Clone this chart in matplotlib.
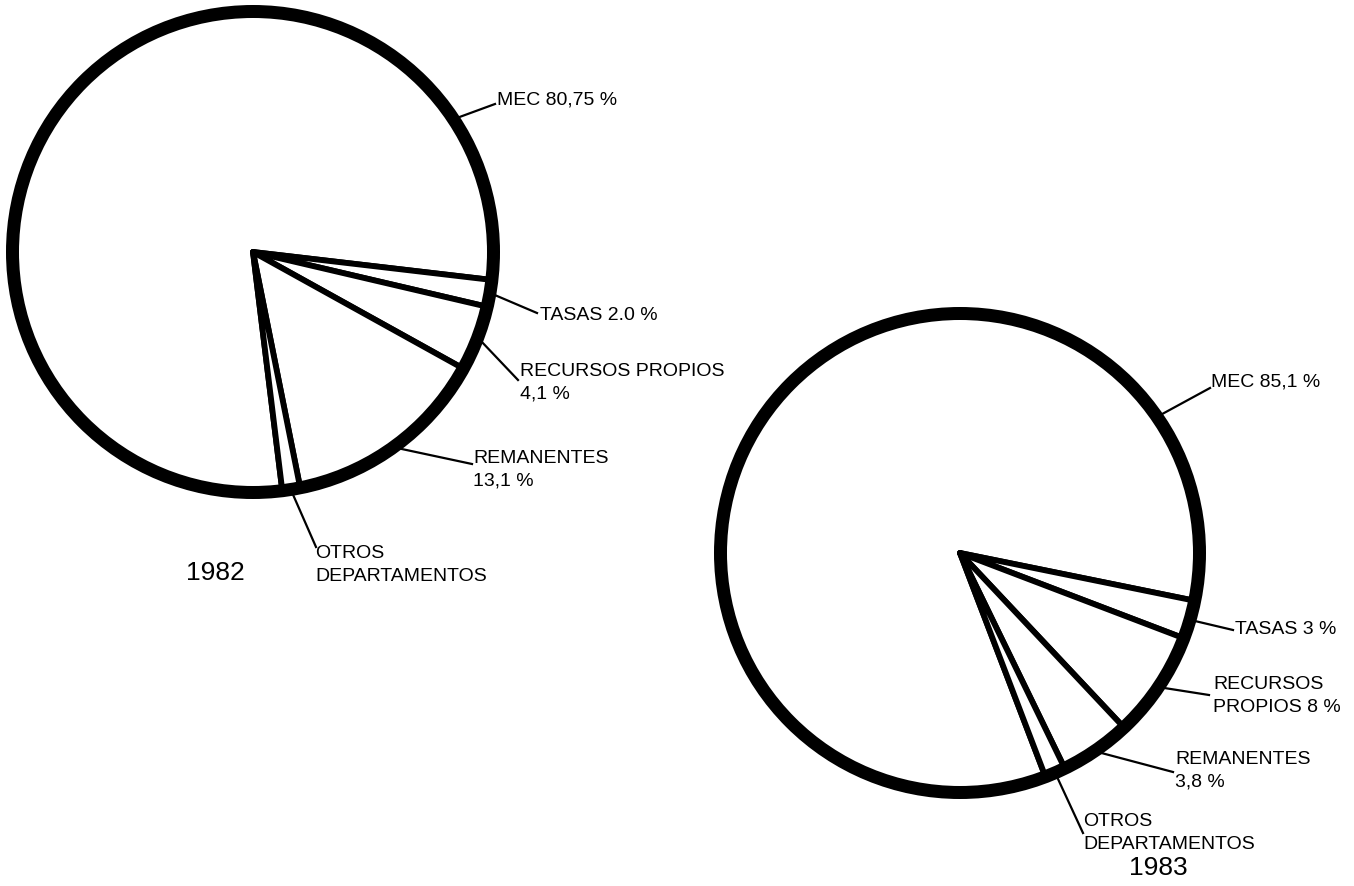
import numpy as np
import matplotlib.pyplot as plt

plt.rcParams['font.family'] = ['Liberation Sans', 'DejaVu Sans']

W, H = 1354, 886

# data: labels as printed, wedge shares (%) as drawn in the original
years = ["1982", "1983"]
labels_1982 = ["MEC 80,75 %", "TASAS 2.0 %", "RECURSOS PROPIOS\n4,1 %",
               "REMANENTES\n13,1 %", "OTROS\nDEPARTAMENTOS"]
shares_1982 = [78.8, 1.8, 4.4, 13.8, 1.2]
labels_1983 = ["MEC 85,1 %", "TASAS 3 %", "RECURSOS\nPROPIOS 8 %",
               "REMANENTES\n3,8 %", "OTROS\nDEPARTAMENTOS"]
shares_1983 = [84.0, 2.6, 7.2, 4.8, 1.4]

# layout in pixels (y measured from the top)
layout = {
    "1982": dict(center=(253, 252), r=247, start=-83.0, mec_angle=33.4,
                 ends=[(495, 104), (537, 313), (518, 380), (472, 464), (316, 547)],
                 texts=[(497, 100), (540, 315), (520, 383), (473, 470), (315, 565)],
                 year_pos=(215, 573)),
    "1983": dict(center=(960, 553), r=246, start=-69.1, mec_angle=34.6,
                 ends=[(1210, 388), (1233, 630), (1209, 695), (1173, 772), (1083, 833)],
                 texts=[(1211, 382), (1235, 630), (1213, 696), (1175, 771), (1083, 833)],
                 year_pos=(1158, 868)),
}


def py(y):
    return H - y


fig = plt.figure(figsize=(W / 100, H / 100), dpi=100)
ax = fig.add_axes([0, 0, 1, 1])

ring_px = 13
for year, shares, labels in [("1982", shares_1982, labels_1982),
                             ("1983", shares_1983, labels_1983)]:
    lay = layout[year]
    cx, cy = lay["center"][0], py(lay["center"][1])
    r_mid = lay["r"] - ring_px / 2

    wedges, _ = ax.pie(shares, center=(cx, cy), radius=r_mid, startangle=lay["start"],
                       counterclock=False, frame=True,
                       wedgeprops=dict(facecolor='white', edgecolor='black',
                                       linewidth=4.2, joinstyle='round'))
    ax.add_patch(plt.Circle((cx, cy), r_mid, fill=False, edgecolor='black',
                            linewidth=ring_px * 0.72, zorder=5))

    for i, (w, lab) in enumerate(zip(wedges, labels)):
        if i == 0:
            ang = lay["mec_angle"]
        else:
            ang = (w.theta1 + w.theta2) / 2
        a = np.deg2rad(ang)
        x0 = cx + (r_mid + 2) * np.cos(a)
        y0 = cy + (r_mid + 2) * np.sin(a)
        ex, ey = lay["ends"][i]
        ax.plot([x0, ex], [y0, py(ey)], color='black', linewidth=1.6, zorder=4)
        tx, ty = lay["texts"][i]
        ax.text(tx, py(ty), lab, ha='left', va='center', fontsize=14,
                linespacing=1.45, color='black')

    yx, yy = lay["year_pos"]
    ax.text(yx, py(yy), year, ha='center', va='center', fontsize=19, color='black')

ax.set_xlim(0, W)
ax.set_ylim(0, H)
ax.set_aspect('equal')
ax.set_axis_off()

fig.savefig("out.png", dpi=100, facecolor='white')
